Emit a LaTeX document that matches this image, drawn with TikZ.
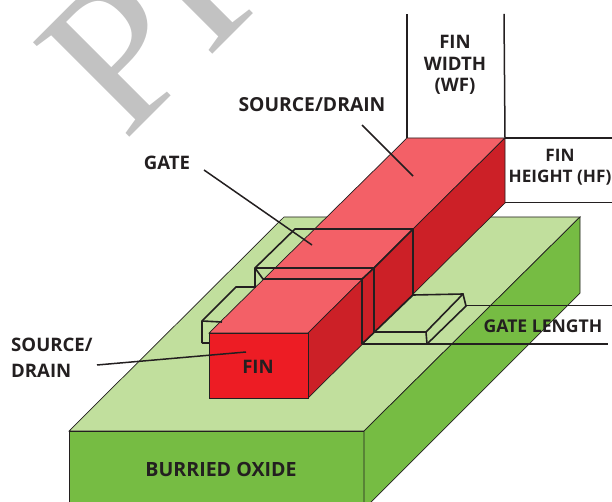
\documentclass[tikz,border=0pt]{standalone}
\usepackage{fontspec}
\setmainfont{Open Sans}
\newfontfamily\stampfont{Liberation Serif}
\definecolor{oxidetop}{RGB}{193,223,157}
\definecolor{oxideside}{RGB}{118,188,67}
\definecolor{fintop}{RGB}{243,96,103}
\definecolor{finside}{RGB}{204,32,39}
\definecolor{finfront}{RGB}{237,28,36}
\definecolor{inkline}{RGB}{35,31,32}
\tikzset{
	facet/.style={draw=inkline, line width=0.7pt},
	gateline/.style={draw=inkline, line width=1.6pt},
	leader/.style={draw=inkline, line width=1.5pt},
	label/.style={font=\bfseries\fontsize{18.6pt}{21.6pt}\selectfont, text=inkline, align=center, inner sep=0pt}
}
\begin{document}
\begin{tikzpicture}[x=1pt,y=-1pt]
	\useasboundingbox (0,0) rectangle (612,502);
	\clip (0,0) rectangle (612,502);
	% watermark
	\node [font=\stampfont\fontsize{206pt}{206pt}\selectfont, text={rgb,255:red,194; green,194; blue,194}, rotate=45, xscale=1.03, anchor=base west, inner sep=0pt] (stamp) at (124,143) {PR};
	% oxide block
	\draw [facet, fill=oxidetop] (69,431) -- (284,217) -- (580,217) -- (364,431) -- cycle;
	\draw [facet, fill=oxideside] (69,431) rectangle (364,510);
	\draw [facet, fill=oxideside] (364,431) -- (580,217) -- (580,293) -- (364,509) -- cycle;
	% fin
	\draw [facet, fill=fintop] (209,333) -- (407,138) -- (505,138) -- (308,333) -- cycle;
	\draw [facet, fill=finside] (308,333) -- (505,138) -- (505,203) -- (308,398) -- cycle;
	\draw [facet, fill=finfront] (209,333) rectangle (308,398);
	% gate
	\draw [gateline] (202,343) -- (202,321) -- (236,287) -- (255,287) -- (255,268) -- (295,229) -- (413,229) -- (413,295);
	\draw [gateline] (202,343) -- (209,343);
	\draw [gateline] (202,321) -- (222,322);
	\draw [gateline] (255,268) -- (374,268) -- (374,332);
	\draw [gateline] (255,268) -- (263,279) -- (362,279) -- (362,344);
	\draw [gateline] (362,279) -- (374,268) -- (413,229);
	\draw [gateline] (362,344) -- (413,295) -- (463,294) -- (466,306) -- (427,344);
	\draw [gateline] (463,294) -- (426,332) -- (375,332);
	\draw [gateline] (426,332) -- (427,344);
	% dimension lines
	\coordinate (gatetop) at (466,305.5);
	\coordinate (gatetopend) at (612,305.5);
	\coordinate (gatefoot) at (362,344);
	\coordinate (gatefootend) at (608,344);
	\coordinate (widthleft) at (407,138);
	\coordinate (widthlefttop) at (407,14);
	\coordinate (widthright) at (505,138);
	\coordinate (widthrighttop) at (504,14);
	\coordinate (heighttop) at (612,138);
	\coordinate (finfoot) at (505,203);
	\coordinate (heightfoot) at (612,203);
	\draw [leader, line width=1pt] (gatetop) -- (gatetopend);
	\draw [leader] (gatefoot) -- (gatefootend);
	\draw [leader] (widthleft) -- (widthlefttop);
	\draw [leader] (widthright) -- (widthrighttop);
	\draw [leader] (widthright) -- (heighttop);
	\draw [leader, line width=1pt] (finfoot) -- (heightfoot);
	% labels
	\node [label] (finwidth) at (455,65) {FIN\\WIDTH\\(WF)};
	\node [label, font=\bfseries\fontsize{17.2pt}{21pt}\selectfont] (finheight) at (560,167.5) {FIN\\HEIGHT (HF)};
	\node [label, font=\bfseries\fontsize{19.3pt}{21pt}\selectfont] (sourcetop) at (312,105) {SOURCE/DRAIN};
	\node [label] (gatelabel) at (167,163) {GATE};
	\node [label, align=left, anchor=west, font=\bfseries\fontsize{18.6pt}{26pt}\selectfont] (sourcefront) at (11,358) {SOURCE/\\DRAIN};
	\node [label] (finlabel) at (258,367) {FIN};
	\node [label, font=\bfseries\fontsize{17.6pt}{21pt}\selectfont] (gatelength) at (543,326) {GATE LENGTH};
	\node [label, font=\bfseries\fontsize{19.6pt}{21pt}\selectfont] (oxide) at (221,469) {BURRIED OXIDE};
	% leaders
	\coordinate (sourcetopa) at (362,125);
	\coordinate (sourcetopb) at (413,176);
	\coordinate (gatea) at (204,170);
	\coordinate (gateb) at (312,245);
	\coordinate (sourcefronta) at (97,365);
	\coordinate (sourcefrontb) at (246,352);
	\draw [leader] (sourcetopa) -- (sourcetopb);
	\draw [leader] (gatea) -- (gateb);
	\draw [leader] (sourcefronta) -- (sourcefrontb);
\end{tikzpicture}
\end{document}
